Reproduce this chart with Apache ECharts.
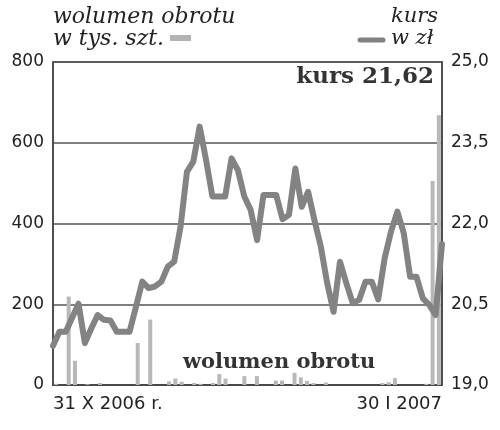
<!DOCTYPE html>
<html>
<head>
<meta charset="utf-8">
<script src="https://cdn.jsdelivr.net/npm/echarts@6/dist/echarts.min.js"></script>
<style>
html,body{margin:0;padding:0;background:#fff;}
#chart{width:500px;height:430px;}
</style>
</head>
<body>
<div id="chart"></div>
<script>
// Trading days 31 X 2006 – 30 I 2007
const categories = [
  '2006-10-31',
  '2006-11-02','2006-11-03','2006-11-06','2006-11-07','2006-11-08','2006-11-09','2006-11-10',
  '2006-11-13','2006-11-14','2006-11-15','2006-11-16','2006-11-17','2006-11-20','2006-11-21',
  '2006-11-22','2006-11-23','2006-11-24','2006-11-27','2006-11-28','2006-11-29','2006-11-30',
  '2006-12-01','2006-12-04','2006-12-05','2006-12-06','2006-12-07','2006-12-08','2006-12-11',
  '2006-12-12','2006-12-13','2006-12-14','2006-12-15','2006-12-18','2006-12-19','2006-12-20',
  '2006-12-21','2006-12-22','2006-12-27','2006-12-28','2006-12-29',
  '2007-01-02','2007-01-03','2007-01-04','2007-01-05','2007-01-08','2007-01-09','2007-01-10',
  '2007-01-11','2007-01-12','2007-01-15','2007-01-16','2007-01-17','2007-01-18','2007-01-19',
  '2007-01-22','2007-01-23','2007-01-24','2007-01-25','2007-01-26','2007-01-29','2007-01-30'
];
// kurs w zł
const kurs = [
  19.73, 19.99, 19.99, 20.25, 20.51, 19.78, 20.05, 20.30, 20.21, 20.20,
  19.99, 19.99, 19.99, 20.45, 20.92, 20.80, 20.83, 20.92, 21.20, 21.29,
  21.94, 22.96, 23.15, 23.80, 23.18, 22.50, 22.50, 22.50, 23.21, 22.99,
  22.50, 22.25, 21.69, 22.53, 22.53, 22.53, 22.08, 22.16, 23.02, 22.31,
  22.59, 22.06, 21.57, 20.89, 20.36, 21.29, 20.89, 20.52, 20.58, 20.92,
  20.92, 20.59, 21.35, 21.85, 22.22, 21.82, 21.01, 21.01, 20.61, 20.49,
  20.30, 21.62
];
// wolumen obrotu w tys. szt.
const wolumen = [
  3, 0, 219, 60, 0, 2, 0, 5, 0, 0,
  0, 0, 0, 104, 0, 162, 0, 0, 9, 16,
  8, 0, 5, 3, 0, 5, 27, 16, 0, 0,
  22, 0, 22, 0, 0, 11, 11, 0, 30, 19,
  10, 5, 0, 6, 0, 0, 0, 0, 0, 0,
  0, 0, 5, 7, 17, 0, 0, 0, 0, 3,
  505, 668
];
const xTickLabels = ['31 X 2006 r.', '30 I 2007'];
const leftTicks = [0, 200, 400, 600, 800];
const rightTicks = [19.0, 20.5, 22.0, 23.5, 25.0];
const titleText = 'kurs 21,62';
const volLegend = ['wolumen obrotu', 'w tys. szt.'];
const kursLegend = ['kurs', 'w zł'];
const volCaption = 'wolumen obrotu';

const chart = echarts.init(document.getElementById('chart'), null, {renderer: 'canvas'});
const labelFont = 'DejaVu Sans';
const serif = 'DejaVu Serif';
const lastIdx = categories.length - 1;

chart.setOption({
  animation: false,
  backgroundColor: '#fff',
  grid: {left: 53, right: 58, top: 62, bottom: 45, show: true, borderColor: '#444', borderWidth: 1.5, backgroundColor: 'transparent'},
  xAxis: [
    {
      type: 'category', data: categories, boundaryGap: false,
      axisLine: {show: true, lineStyle: {color: '#444', width: 1.5}},
      axisTick: {show: false},
      splitLine: {show: false},
      axisLabel: {
        interval: function (i) { return i === 0 || i === lastIdx; },
        formatter: function (v, i) { return i === 0 ? xTickLabels[0] : (i === lastIdx ? xTickLabels[1] : ''); },
        alignMinLabel: 'left', alignMaxLabel: 'right',
        color: '#222', fontFamily: labelFont, fontSize: 18, margin: 10
      }
    },
    {
      type: 'category', data: categories, boundaryGap: true, show: false
    }
  ],
  yAxis: [
    {
      type: 'value', min: leftTicks[0], max: leftTicks[leftTicks.length - 1], interval: 200,
      axisLine: {show: true, lineStyle: {color: '#444', width: 1.5}},
      axisTick: {show: false},
      splitLine: {show: true, lineStyle: {color: '#555', width: 1.5}},
      axisLabel: {color: '#222', fontFamily: labelFont, fontSize: 17, margin: 9}
    },
    {
      type: 'value', min: rightTicks[0], max: rightTicks[rightTicks.length - 1], interval: 1.5,
      position: 'right',
      axisLine: {show: true, lineStyle: {color: '#444', width: 1.5}},
      axisTick: {show: false},
      splitLine: {show: false},
      axisLabel: {
        color: '#222', fontFamily: labelFont, fontSize: 17, margin: 9,
        formatter: function (v) { return v.toFixed(1).replace('.', ','); }
      }
    }
  ],
  series: [
    {
      name: 'wolumen', type: 'bar', xAxisIndex: 1, yAxisIndex: 0,
      data: wolumen, barWidth: 4,
      itemStyle: {color: '#b8b8b8'}
    },
    {
      name: 'kurs', type: 'line', xAxisIndex: 0, yAxisIndex: 1,
      data: kurs, showSymbol: false, symbol: 'none',
      lineStyle: {color: '#838383', width: 6, join: 'round', cap: 'round'}
    }
  ],
  graphic: [
    {type: 'text', left: 53, top: 6, style: {text: volLegend[0] + '\n' + volLegend[1], fontFamily: serif, fontStyle: 'italic', fontSize: 22, lineHeight: 22, fill: '#222'}},
    {type: 'rect', shape: {x: 170, y: 35, width: 21, height: 6}, style: {fill: '#b3b3b3'}},
    {type: 'text', right: 62, top: 6, style: {text: kursLegend[0] + '\n' + kursLegend[1], fontFamily: serif, fontStyle: 'italic', fontSize: 21, lineHeight: 22, fill: '#222', align: 'right'}},
    {type: 'line', shape: {x1: 360, y1: 40, x2: 383, y2: 40}, style: {stroke: '#808080', lineWidth: 5, lineCap: 'round'}},
    {type: 'text', right: 66, top: 66, style: {text: titleText, fontFamily: serif, fontWeight: 'bold', fontSize: 23, fill: '#333'}},
    {type: 'text', left: 183, top: 352, style: {text: volCaption, fontFamily: serif, fontWeight: 'bold', fontSize: 21, fill: '#333'}}
  ]
});
</script>
</body>
</html>
